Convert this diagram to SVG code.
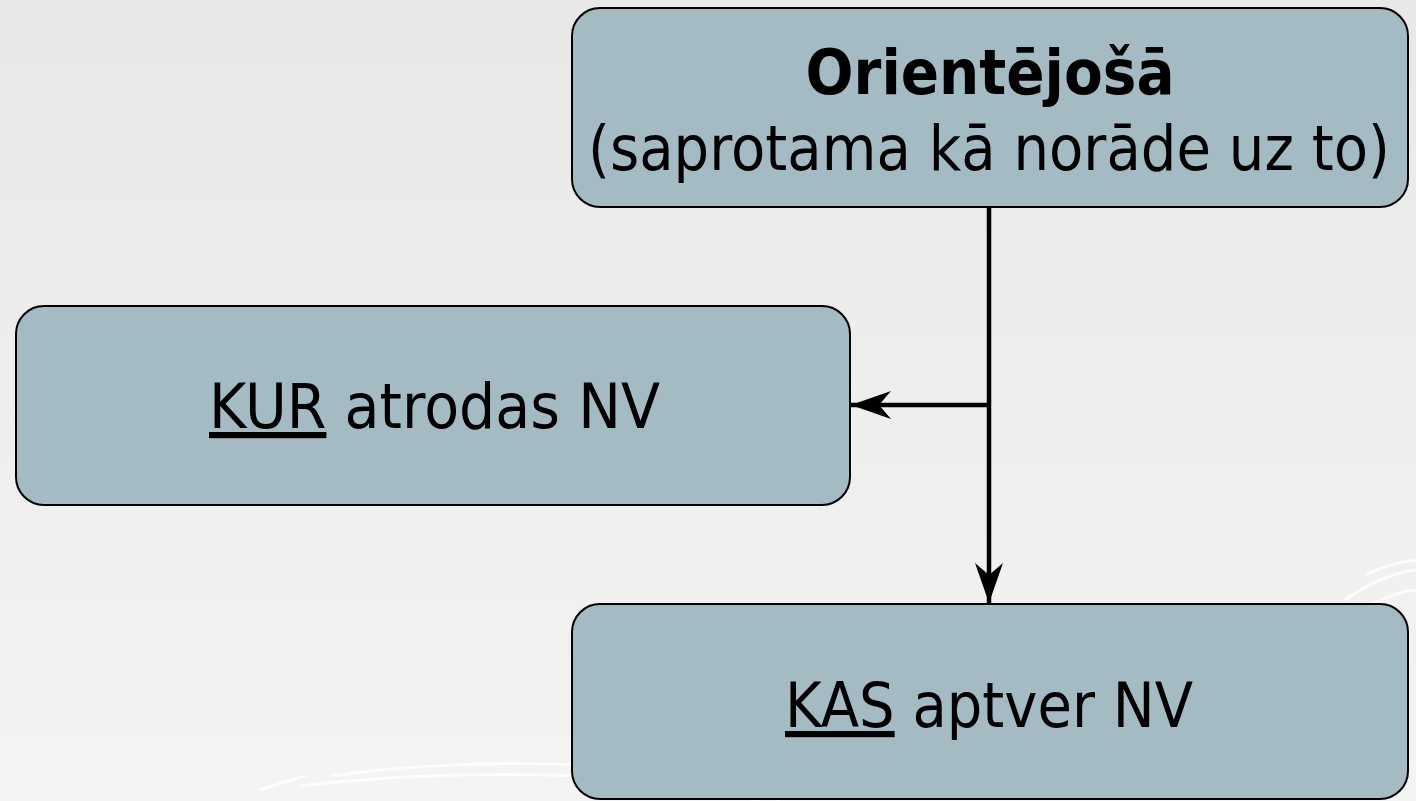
<svg xmlns="http://www.w3.org/2000/svg" width="1416" height="801" viewBox="0 0 1416 801">
  <defs>
    <linearGradient id="bg" x1="0" y1="0" x2="0" y2="1">
      <stop offset="0" stop-color="#e8e8e8"/>
      <stop offset="1" stop-color="#f4f4f4"/>
    </linearGradient>
    <marker id="arrow" viewBox="0 0 40 30" refX="40" refY="15" markerWidth="40" markerHeight="30" markerUnits="userSpaceOnUse" orient="auto">
      <path d="M40,15 L0,1 L12,15 L0,29 Z" fill="#000"/>
    </marker>
    <style>
      .box { fill: #a5bbc3; stroke: #000; stroke-width: 2; }
      .t { font-family: "DejaVu Sans", "Liberation Sans", sans-serif; fill: #000; text-anchor: middle; }
      .b { font-weight: bold; }
      .conn { stroke: #000; stroke-width: 4.5; fill: none; }
      .swirl { stroke: #ffffff; fill: none; stroke-width: 3; opacity: 0.8; }
    </style>
  </defs>
  <rect x="0" y="0" width="1416" height="801" fill="url(#bg)"/>
  <g id="decor">
    <path class="swirl" d="M330,776 Q460,758 600,766 Q680,772 780,800"/>
    <path class="swirl" d="M300,786 Q450,768 620,778 Q700,786 760,801"/>
    <path class="swirl" d="M260,790 Q290,780 305,776"/>
    <path class="swirl" d="M1345,600 Q1380,575 1416,570"/>
    <path class="swirl" d="M1360,612 Q1390,592 1416,590"/>
    <path class="swirl" d="M1365,575 Q1390,563 1416,560"/>
  </g>
  <g id="connectors">
    <line class="conn" x1="989" y1="207" x2="989" y2="603" marker-end="url(#arrow)"/>
    <line class="conn" x1="989" y1="405" x2="851" y2="405" marker-end="url(#arrow)"/>
  </g>
  <g id="node-orientejosa">
    <rect class="box" x="572" y="8" width="836" height="199" rx="28"/>
    <text class="t b" x="990" y="94" font-size="62" textLength="369" lengthAdjust="spacingAndGlyphs">Orientējošā</text>
    <text class="t" x="989" y="170" font-size="63" textLength="802" lengthAdjust="spacingAndGlyphs">(saprotama kā norāde uz to)</text>
  </g>
  <g id="node-kur">
    <rect class="box" x="16" y="306" width="834" height="199" rx="28"/>
    <text class="t" x="434.5" y="428" font-size="62" textLength="451" lengthAdjust="spacingAndGlyphs"><tspan text-decoration="underline">KUR</tspan> atrodas NV</text>
  </g>
  <g id="node-kas">
    <rect class="box" x="572" y="604" width="836" height="195" rx="28"/>
    <text class="t" x="989" y="727" font-size="62" textLength="408" lengthAdjust="spacingAndGlyphs"><tspan text-decoration="underline">KAS</tspan> aptver NV</text>
  </g>
</svg>
